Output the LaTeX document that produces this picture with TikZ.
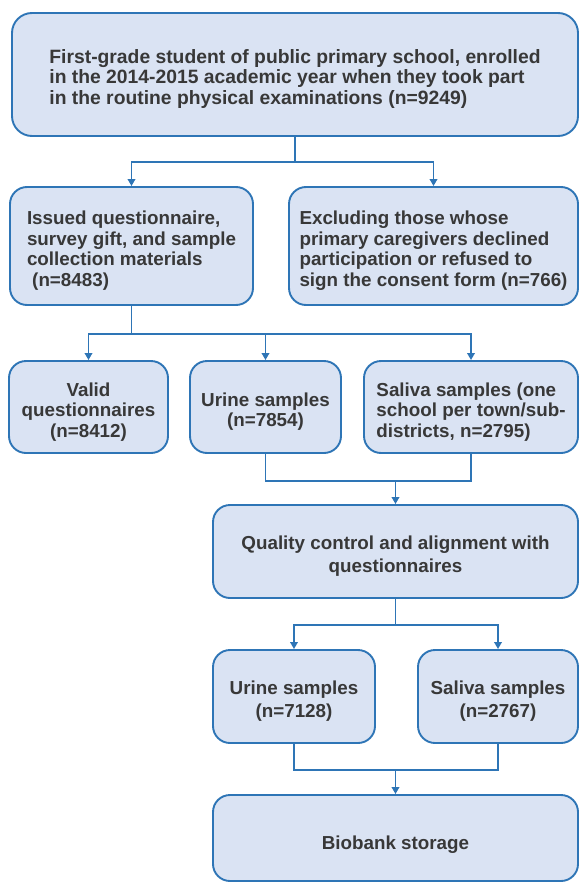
\documentclass[tikz,border=0pt]{standalone}
\usepackage{fontspec}
\setmainfont{Liberation Sans}
\usetikzlibrary{arrows.meta}
\definecolor{bblue}{RGB}{46,117,182}
\definecolor{bfill}{RGB}{218,227,243}
\definecolor{tgray}{RGB}{56,56,56}
\newcommand\tsh{\rule{0pt}{23pt}}
\tikzset{
  box/.style={draw=bblue, fill=bfill, line width=1.9pt, rounded corners=17pt,
    text=tgray, inner sep=0pt, font=\bfseries\fontsize{18.8}{20.5}\selectfont},
  lowbox/.style={box, font=\bfseries\fontsize{18.8}{22.2}\selectfont},
  conn/.style={draw=bblue, line width=1.9pt},
  arr/.style={conn, -{Triangle[length=7pt,width=7.5pt]}},
}
\begin{document}
\begin{tikzpicture}[x=1pt,y=-1pt]
\useasboundingbox (0,0) rectangle (579,883);
% boxes
\node[box, rounded corners=20pt, font=\bfseries\fontsize{19.3}{20.5}\selectfont,
  minimum width=566pt, minimum height=123pt, align=left] (top) at (295,74.5)
  {\tsh First-grade student of public primary school, enrolled\\in the 2014-2015 academic year when they took part\\in the routine physical examinations (n=9249)};
\node[box, minimum width=243pt, minimum height=118pt, align=left] (b2l) at (131.5,246)
  {\tsh Issued questionnaire,\\survey gift, and sample\\collection materials\\\ (n=8483)};
\node[box, minimum width=289pt, minimum height=118pt, align=left] (b2r) at (433.5,246)
  {\tsh Excluding those whose\\primary caregivers declined\\participation or refused to\\sign the consent form (n=766)};
\node[box, minimum width=159pt, minimum height=92pt, align=center] (ra) at (88.5,407)
  {\tsh Valid\\questionnaires\\(n=8412)};
\node[box, minimum width=151pt, minimum height=92pt, align=center] (rb) at (265.5,407)
  {\tsh Urine samples\\(n=7854)};
\node[box, minimum width=214pt, minimum height=92pt, align=left] (rc) at (471,407)
  {\tsh Saliva samples (one\\school per town/sub-\\districts, n=2795)};
\node[lowbox, minimum width=365pt, minimum height=93pt, align=center] (qc) at (395.5,551.5)
  {\tsh Quality control and alignment with\\questionnaires};
\node[lowbox, minimum width=162pt, minimum height=93pt, align=center] (u2) at (294,696.5)
  {\tsh Urine samples\\(n=7128)};
\node[lowbox, minimum width=160pt, minimum height=93pt, align=center] (s2) at (498,696.5)
  {\tsh Saliva samples\\(n=2767)};
\node[lowbox, minimum width=365pt, minimum height=86pt] (bb) at (395.5,838)
  {\rule{0pt}{27pt}Biobank storage};
% connectors
\draw[conn] (top.south) -- ++(0,25) coordinate (c1);
\draw[arr] (c1) -| (b2l.north);
\draw[arr] (c1) -| (b2r.north);
\draw[conn] (b2l.south) -- ++(0,28) coordinate (c2);
\draw[arr] (c2) -| (ra.north);
\draw[arr] (c2) -| (rb.north);
\draw[arr] (c2) -| (rc.north);
\draw[conn] (rb.south) -- ++(0,27) coordinate (c3) -| (rc.south);
\draw[arr] (c3 -| qc.north) -- (qc.north);
\draw[conn] (qc.south) -- ++(0,26) coordinate (c4);
\draw[arr] (c4) -| (u2.north);
\draw[arr] (c4) -| (s2.north);
\draw[conn] (u2.south) -- ++(0,26) coordinate (c5) -| (s2.south);
\draw[arr] (c5 -| bb.north) -- (bb.north);
\end{tikzpicture}
\end{document}
